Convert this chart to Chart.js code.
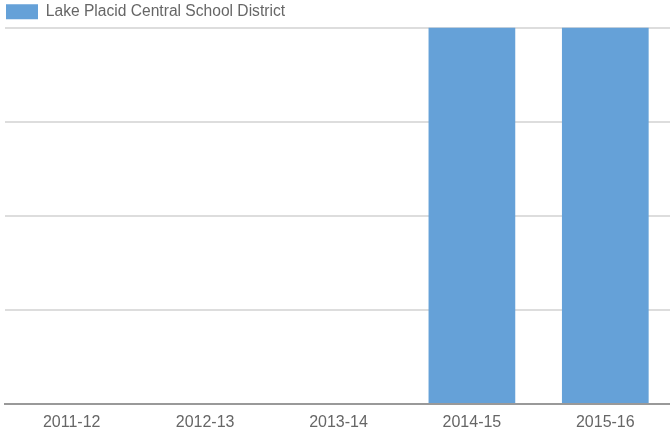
<!DOCTYPE html>
<html lang="en">
<head>
    <meta charset="UTF-8">
    <title>Lake Placid Central School District</title>
    <script src="https://cdn.jsdelivr.net/npm/chart.js@4"></script>
    <style>
        html, body { margin: 0; padding: 0; background: #fff; overflow: hidden; }
        .chart { position: relative; width: 672px; height: 434px; }
    </style>
</head>
<body>
    <div class="chart">
        <canvas id="districtChart"></canvas>
    </div>

    <script>
        // Data
        const years = ['2011-12', '2012-13', '2013-14', '2014-15', '2015-16'];
        const districtValues = [0, 0, 0, 1, 1];
        const seriesLabel = 'Lake Placid Central School District';

        // trim the legend block so the plot starts right under it
        const legendGap = {
            id: 'legendGap',
            beforeInit(chart) {
                const fit = chart.legend.fit;
                chart.legend.fit = function () {
                    fit.bind(chart.legend)();
                    this.height -= 2;
                };
            }
        };

        const ctx = document.getElementById('districtChart').getContext('2d');
        new Chart(ctx, {
            type: 'bar',
            data: {
                labels: years,
                datasets: [{
                    label: seriesLabel,
                    data: districtValues,
                    backgroundColor: '#65a1d8',
                    borderWidth: 0,
                    categoryPercentage: 1,
                    barPercentage: 0.65
                }]
            },
            options: {
                responsive: true,
                maintainAspectRatio: false,
                animation: false,
                layout: { padding: { left: 2, right: 0, top: 0, bottom: 0 } },
                plugins: {
                    legend: {
                        display: true,
                        align: 'start',
                        labels: {
                            boxWidth: 32,
                            boxHeight: 15,
                            padding: 4,
                            color: '#666',
                            font: { family: 'Liberation Sans, Arial, sans-serif', size: 15.6 }
                        }
                    },
                    tooltip: { enabled: false }
                },
                scales: {
                    x: {
                        grid: { display: false, drawTicks: false },
                        border: { display: true, color: '#999', width: 2 },
                        ticks: {
                            color: '#666',
                            padding: 9,
                            font: { family: 'Liberation Sans, Arial, sans-serif', size: 16 }
                        },
                        afterFit(scale) { scale.height = 30; }
                    },
                    y: {
                        min: 0,
                        max: 1,
                        ticks: { display: false, stepSize: 0.25 },
                        grid: { color: '#ddd', lineWidth: 2, drawTicks: false },
                        border: { display: false },
                        afterFit(scale) { scale.width = 3; }
                    }
                }
            },
            plugins: [legendGap]
        });
    </script>
</body>
</html>
